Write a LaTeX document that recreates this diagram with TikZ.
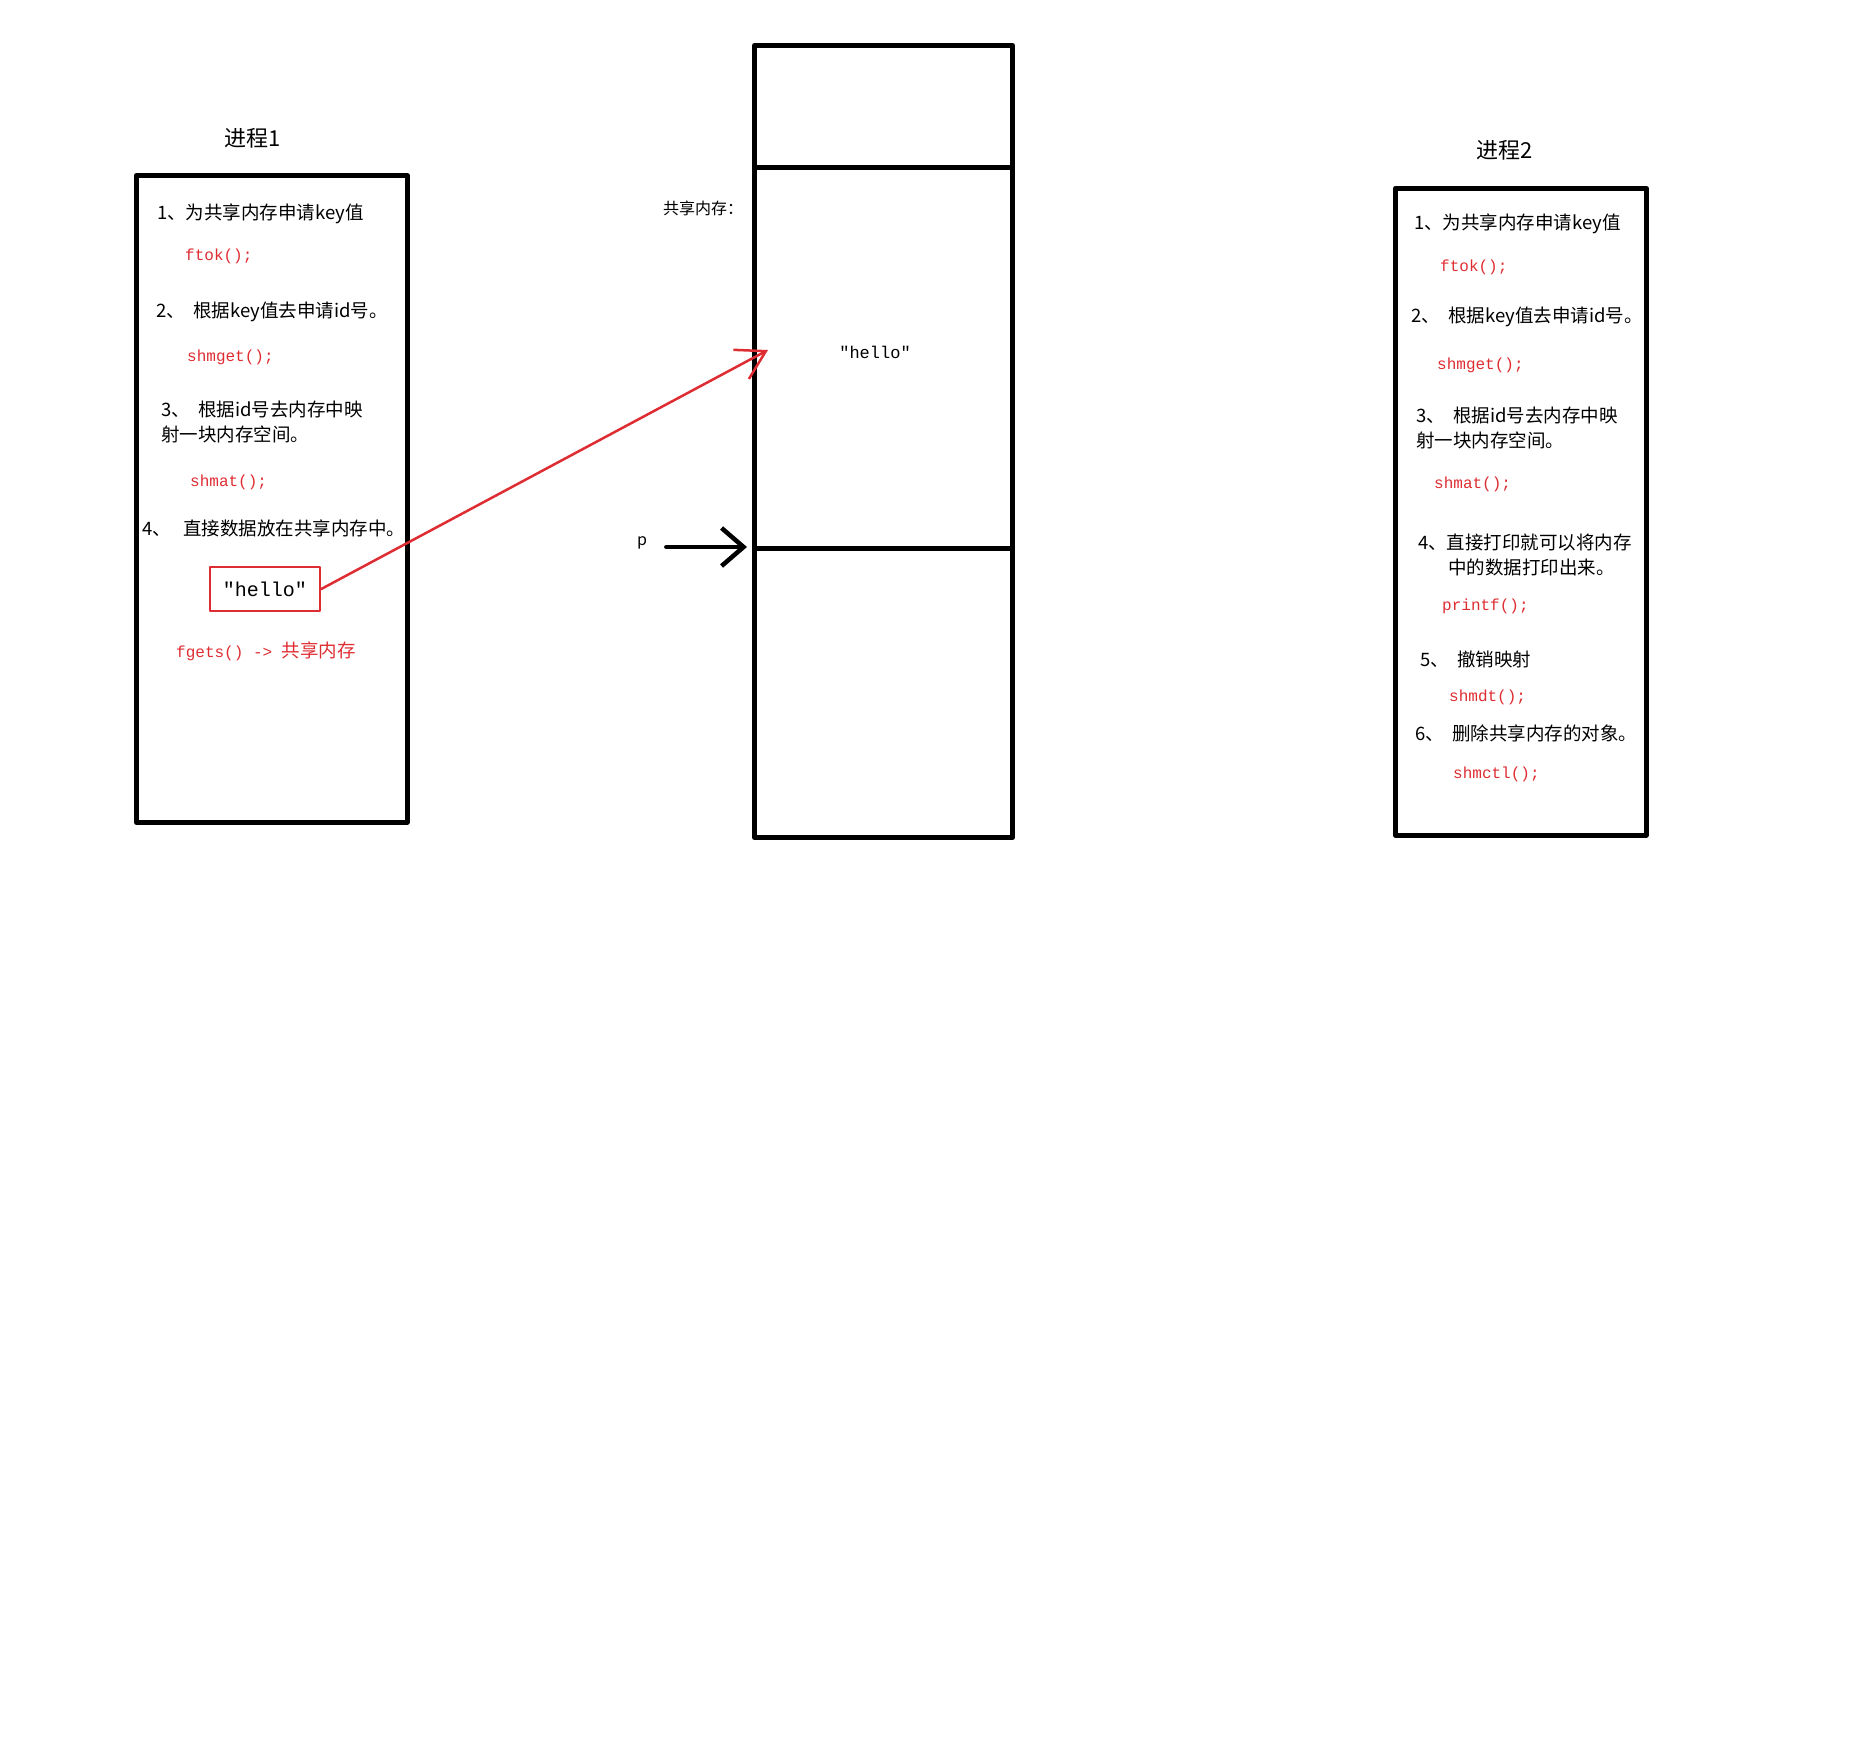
\documentclass[tikz,border=0pt]{standalone}
\usepackage{fontspec}
\setmainfont{Noto Sans CJK SC}
\newfontfamily\codefont{Liberation Mono}
\usetikzlibrary{arrows.meta,positioning}
\definecolor{codered}{RGB}{222,45,50}
\begin{document}
\begin{tikzpicture}[x=1pt,y=-1pt, line join=round, line cap=round,
    procbox/.style={draw, line width=4.5pt, anchor=north west, inner sep=0},
    memcell/.style={draw, line width=5pt, anchor=north west, inner sep=0, minimum width=258pt},
    txt/.style={anchor=west, inner sep=0, font=\fontsize{18.5}{25}\selectfont, align=left},
    code/.style={anchor=west, inner sep=0, text=codered, font=\codefont\fontsize{16}{20}\selectfont},
    title/.style={inner sep=0, font=\fontsize{22}{26}\selectfont}]
    \useasboundingbox (0,0) rectangle (1852,1741);
    % process 1
    \node[title] (t1) at (253,138) {进程1};
    \node[procbox, minimum width=271pt, minimum height=647pt] (proc1) at (134,173) {};
    \node[txt] (a1) at (157,214) {1、为共享内存申请key值};
    \node[code] (a1c) at (185,256) {ftok();};
    \node[txt] (a2) at (156,312) {2、~ 根据key值去申请id号。};
    \node[code] (a2c) at (187,357) {shmget();};
    \node[txt] (a3) at (161,422) {3、~ 根据id号去内存中映\\射一块内存空间。};
    \node[code] (a3c) at (190,482) {shmat();};
    \node[txt] (a4) at (142,528) {4、~~ 直接数据放在共享内存中。};
    \node[draw=codered, line width=2.5pt, minimum width=110pt, minimum height=44pt,
        inner sep=0, font=\codefont\fontsize{20}{24}\selectfont] (hello1) at (265,589) {"hello"};
    \node[code] (a5) at (176,651) {fgets() -> {\fontspec{Noto Sans CJK SC}\fontsize{18.5}{20}\selectfont 共享内存}};
    % shared memory
    \node[memcell, minimum height=122pt] (memtop) at (752,43) {};
    \node[memcell, minimum height=381pt] (memshm) at (752,165) {};
    \node[memcell, minimum height=289pt] (membot) at (752,546) {};
    \node[txt, font=\fontsize{16}{20}\selectfont] (shmlbl) at (663,208) {共享内存：};
    \node[font=\codefont\fontsize{17}{20}\selectfont, inner sep=0] (hello2) at (875,352) {"hello"};
    \node[txt, font=\fontsize{16}{20}\selectfont] (p) at (637,543) {p};
    \coordinate (shmpt) at (768,350);
    \coordinate (pstart) at ([xshift=19pt]p.east);
    \coordinate (pend) at ([xshift=-5pt,yshift=4pt]memshm.south west);
    \draw[codered, line width=2.5pt, -{Straight Barb[length=28pt,width=33pt]}] (hello1.east) -- (shmpt);
    \draw[line width=4.5pt, -{Straight Barb[length=22pt,width=38pt]}] (pstart |- pend) -- (pend);
    % process 2
    \node[title] (t2) at (1505,150) {进程2};
    \node[procbox, minimum width=251pt, minimum height=647pt] (proc2) at (1393,186) {};
    \node[txt] (b1) at (1414,224) {1、为共享内存申请key值};
    \node[code] (b1c) at (1440,267) {ftok();};
    \node[txt] (b2) at (1411,317) {2、~ 根据key值去申请id号。};
    \node[code] (b2c) at (1437,365) {shmget();};
    \node[txt] (b3) at (1416,428) {3、~ 根据id号去内存中映\\射一块内存空间。};
    \node[code] (b3c) at (1434,484) {shmat();};
    \node[txt] (b4) at (1418,555) {4、直接打印就可以将内存\\\hspace*{30pt}中的数据打印出来。};
    \node[code] (b4c) at (1442,606) {printf();};
    \node[txt] (b5) at (1420,659) {5、~ 撤销映射};
    \node[code] (b5c) at (1449,697) {shmdt();};
    \node[txt] (b6) at (1415,733) {6、~ 删除共享内存的对象。};
    \node[code] (b6c) at (1453,774) {shmctl();};
\end{tikzpicture}
\end{document}
